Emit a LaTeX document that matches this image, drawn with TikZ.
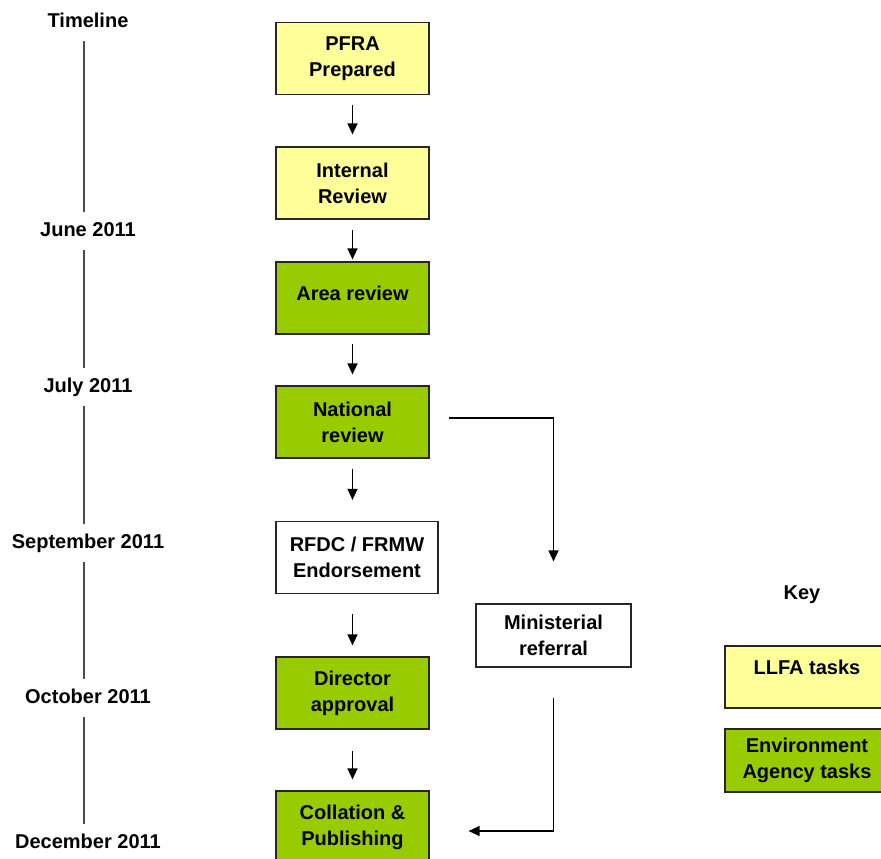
\documentclass[tikz,border=0pt]{standalone}
\usepackage{fontspec}
\setmainfont{Liberation Sans}
\usetikzlibrary{arrows.meta}
\definecolor{llfayellow}{HTML}{FFFF99}
\definecolor{eagreen}{HTML}{99CC00}
\tikzset{
    box/.style={draw=black!85, line width=1.2pt, minimum width=153pt, minimum height=72pt,
        align=center, inner sep=0pt, font=\bfseries\fontsize{20}{26}\selectfont},
    llfa/.style={box, fill=llfayellow},
    ea/.style={box, fill=eagreen},
    plain/.style={box, fill=white},
    month/.style={font=\bfseries\fontsize{20}{24}\selectfont, inner sep=0pt,
        minimum height=38pt, text height=15pt, text depth=4pt},
    arr/.style={line width=1.4pt, -{Triangle[length=11pt,width=10pt]}},
    tl/.style={draw=black!70, line width=1.1pt}
}
\begin{document}
\begin{tikzpicture}[x=1pt, y=-1pt]
        \useasboundingbox (0,0) rectangle (881,859);
        \clip (0,0) rectangle (881,859);
        % timeline
        \node[month] (tline) at (88,22) {Timeline};
        \node[month] (jun) at (88,231) {June 2011};
        \node[month] (jul) at (88,387) {July 2011};
        \node[month] (sep) at (88,543) {September 2011};
        \node[month] (oct) at (88,698) {October 2011};
        \node[month] (dec) at (88,843) {December 2011};
        \foreach \a/\b in {tline/jun, jun/jul, jul/sep, sep/oct, oct/dec}
            \draw[tl] ([xshift=-4pt]\a.south) -- ([xshift=-4pt]\b.north);
        % process
        \node[llfa] (pfra) at (352.5,58.5) {PFRA\\Prepared};
        \node[llfa] (internal) at (352.5,183) {Internal\\Review};
        \node[ea, text depth=10pt] (area) at (352.5,298) {Area review};
        \node[ea] (national) at (352.5,422) {National\\review};
        \node[plain, minimum width=162pt] (rfdc) at (357,557.5) {RFDC / FRMW\\Endorsement};
        \node[ea] (director) at (352.5,693) {Director\\approval};
        \node[ea] (collation) at (352.5,827) {Collation \&\\Publishing};
        \node[plain, minimum width=155pt, minimum height=63pt] (minist) at (553.5,635.5) {Ministerial\\referral};
        \foreach \a/\b/\s/\e in {pfra/internal/10/12, internal/area/10/2, area/national/9/11,
                national/rfdc/10/21, rfdc/director/20/11, director/collation/21/11}
            \draw[arr, shorten <=\s pt, shorten >=\e pt] (\a.south -| pfra) -- (\b.north -| pfra);
        % referral
        \draw[arr] ([xshift=19pt,yshift=4pt]national.east) -| ([yshift=42pt]minist.north);
        \draw[arr] ([yshift=-30pt]minist.south) |- ([xshift=39pt,yshift=-4pt]collation.east);
        % key
        \node[font=\bfseries\fontsize{20}{24}\selectfont, inner sep=0pt] (key) at (802,595) {Key};
        \node[llfa, minimum width=164pt, minimum height=62pt, text depth=20pt] (kllfa) at (807,677) {LLFA tasks};
        \node[ea, minimum width=164pt, minimum height=63pt] (kea) at (807,760.5) {Environment\\Agency tasks};
    \end{tikzpicture}
\end{document}
